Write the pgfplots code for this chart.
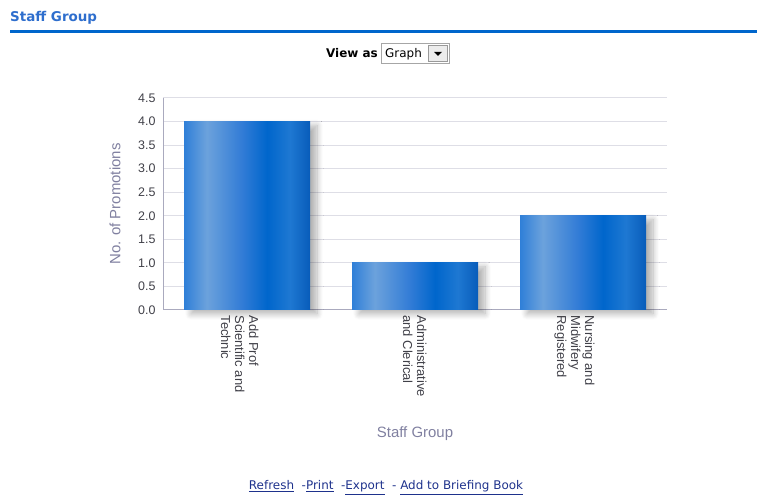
\documentclass[border=0pt]{standalone}
\usepackage{pgfplots}
\pgfplotsset{compat=1.18}
\usepackage{fontspec}
\setmainfont{Liberation Sans}
\newfontfamily\tahoma{DejaVu Sans}
\usetikzlibrary{shadows.blur}
\definecolor{titleblue}{RGB}{46,110,205}
\definecolor{rulblue}{RGB}{0,102,204}
\definecolor{labgray}{RGB}{128,128,160}
\definecolor{tickgray}{RGB}{64,64,72}
\definecolor{gridc}{RGB}{222,222,230}
\definecolor{axisc}{RGB}{170,170,190}
\definecolor{linkblue}{RGB}{30,50,140}
\definecolor{bA}{RGB}{47,127,216}
\definecolor{bB}{RGB}{108,162,220}
\definecolor{bC}{RGB}{50,124,214}
\definecolor{bD}{RGB}{0,102,204}
\definecolor{bE}{RGB}{30,120,210}
\definecolor{bF}{RGB}{8,92,186}
\pgfdeclarehorizontalshading{barshade}{100bp}{color(0bp)=(bA); color(25bp)=(bA); color(34bp)=(bB); color(48bp)=(bC); color(58bp)=(bD); color(67bp)=(bE); color(75bp)=(bF); color(100bp)=(bF)}
\pgfplotsset{mybar/.style={ybar, bar width=126bp, bar shift=0pt, draw=none, shading=barshade,
  blur shadow={shadow xshift=7bp, shadow yshift=-4bp, shadow blur steps=10, shadow blur radius=6bp, shadow opacity=30}}}
\begin{document}
\begin{tikzpicture}[x=1bp,y=1bp]
\path[use as bounding box] (0,0) rectangle (757,497);
% header
\node[anchor=base west, font=\tahoma\fontsize{13.5}{13.5}\selectfont\bfseries, text=titleblue, inner sep=0pt] at (10,475) {Staff Group};
\fill[rulblue] (10,464) rectangle (757,467);
% view as
\node[anchor=base east, font=\tahoma\fontsize{12}{12}\selectfont\bfseries, inner sep=0pt] at (378,439) {View as};
\draw[gray!70, fill=white] (381.5,433.5) rectangle (449.5,453.5);
\node[anchor=base west, font=\tahoma\fontsize{12}{12}\selectfont, inner sep=0pt] at (385,439) {Graph};
\draw[gray!80, fill=gray!15] (428.5,435.5) rectangle (447.5,451.5);
\fill[black] (434,445) -- (442,445) -- (438,441) -- cycle;
\begin{axis}[
  at={(163bp,187bp)}, anchor=south west,
  scale only axis, width=504bp, height=212bp,
  xmin=-0.5, xmax=2.5, ymin=0, ymax=4.5,
  axis x line*=bottom, axis y line*=left,
  axis line style={axisc, line width=1bp},
  x axis line style={-}, y axis line style={-},
  xtick={0,1,2},
  xticklabels={{Add Prof\\Scientific and\\Technic},{Administrative\\and Clerical},{Nursing and\\Midwifery\\Registered}},
  xticklabel style={rotate=-90, anchor=north west, align=left, font=\fontsize{13}{14}\selectfont, text=tickgray, yshift=15bp, xshift=2bp},
  ytick={0,0.5,...,4.5},
  yticklabel style={font=\fontsize{12.5}{12.5}\selectfont, text=tickgray, xshift=-4bp, /pgf/number format/.cd, fixed, fixed zerofill, precision=1, assume math mode=true},
  major tick length=0pt,
  ymajorgrids, grid style={gridc, line width=1bp},
  ylabel={No. of Promotions}, ylabel style={font=\fontsize{15}{15}\selectfont, text=labgray, at={(axis description cs:-0.0952,0.5)}, anchor=center},
  xlabel={Staff Group}, xlabel style={font=\fontsize{15}{15}\selectfont, text=labgray, at={(axis description cs:0.5,-0.585)}, anchor=center},
  clip=false,
]
\addplot[mybar] coordinates {(0,4)};
\addplot[mybar] coordinates {(1,1)};
\addplot[mybar] coordinates {(2,2)};
\end{axis}
% links
\node[anchor=base, font=\tahoma\fontsize{12}{12}\selectfont, text=linkblue, inner sep=0pt] at (386,7) {\underline{Refresh}\ \ -\underline{Print}\ \ -\underline{Export}\ \ - \underline{Add to Briefing Book}};
\end{tikzpicture}
\end{document}
